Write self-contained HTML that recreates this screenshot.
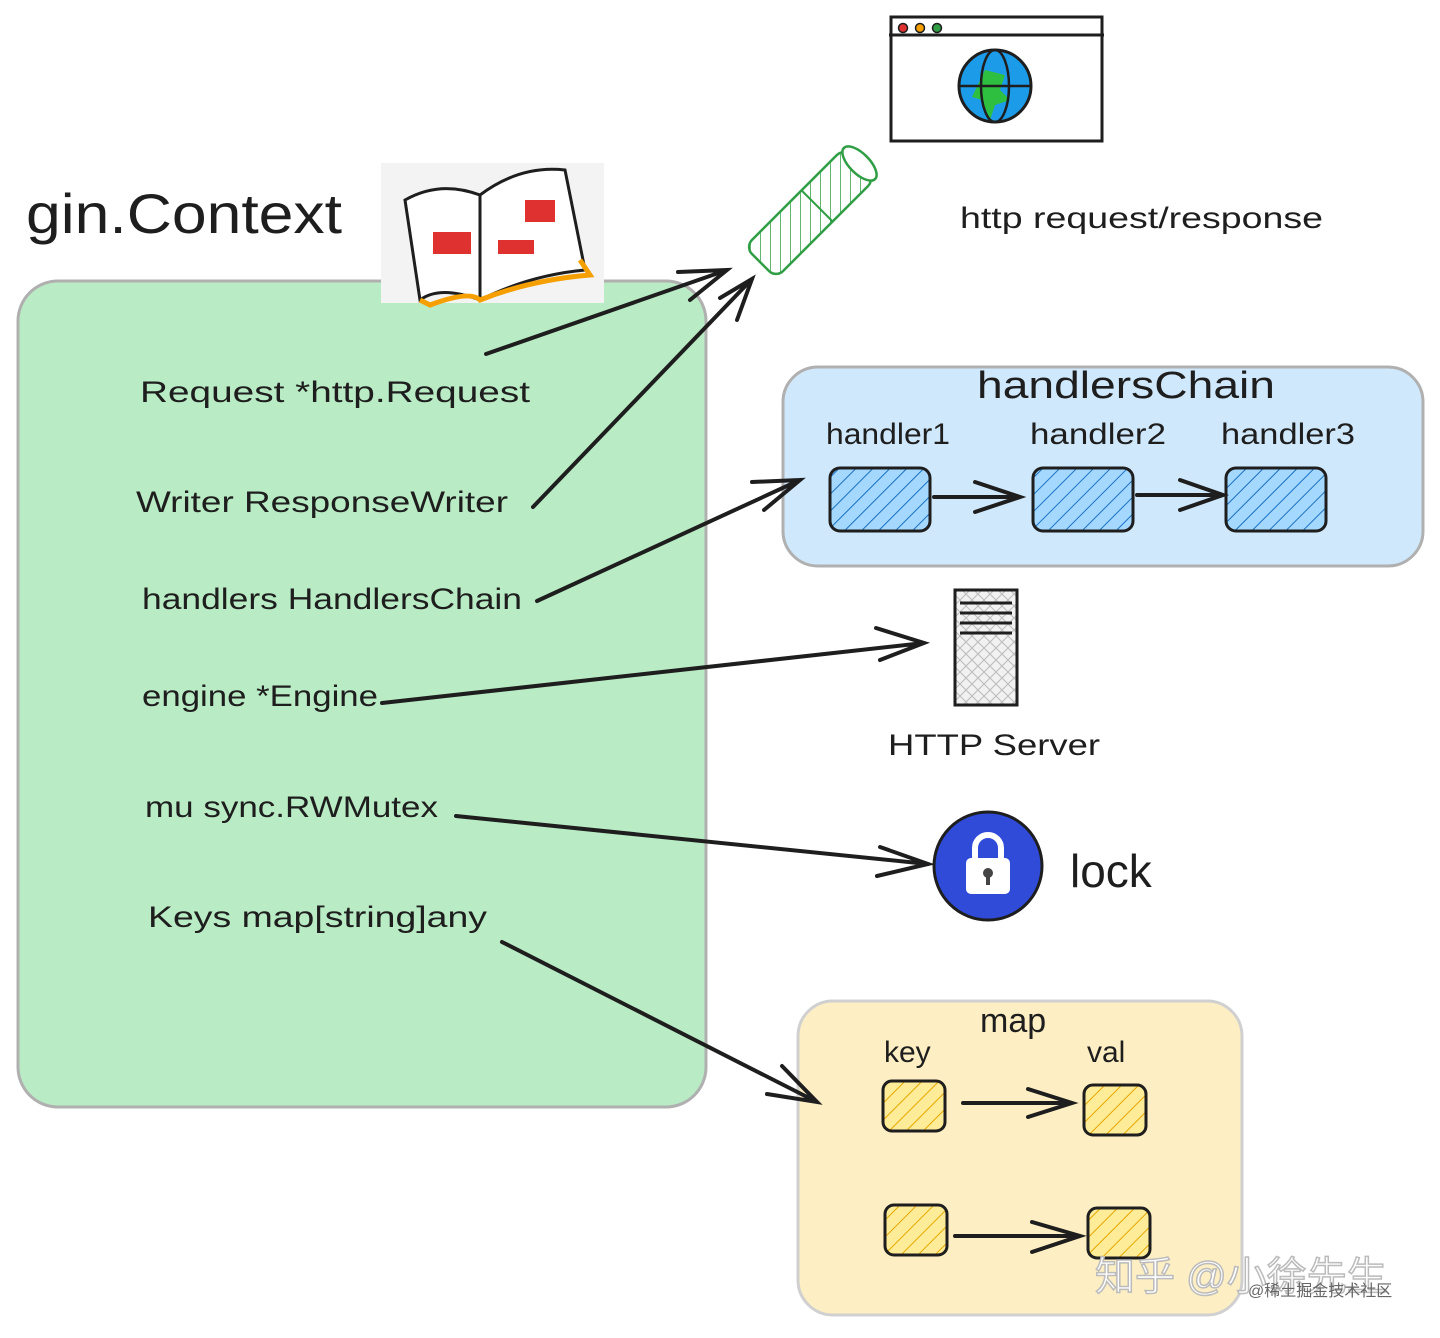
<!DOCTYPE html>
<html><head><meta charset="utf-8"><style>
html,body{margin:0;padding:0;background:#fff}
svg text{font-family:"Liberation Sans","Noto Sans CJK SC",sans-serif;fill:#1e1e1e}
</style></head><body>
<svg width="1440" height="1333" viewBox="0 0 1440 1333" xmlns="http://www.w3.org/2000/svg">
<defs>
<pattern id="hb" width="12" height="12" patternUnits="userSpaceOnUse" patternTransform="rotate(45)"><rect width="12" height="12" fill="#a5d8ff"/><line x1="0" y1="0" x2="0" y2="12" stroke="#1971c2" stroke-width="2"/></pattern>
<pattern id="hy" width="12" height="12" patternUnits="userSpaceOnUse" patternTransform="rotate(45)"><rect width="12" height="12" fill="#ffec99"/><line x1="0" y1="0" x2="0" y2="12" stroke="#e6a700" stroke-width="2"/></pattern>
<pattern id="hg" width="10" height="10" patternUnits="userSpaceOnUse" patternTransform="rotate(45)"><rect width="10" height="10" fill="#fff"/><line x1="0" y1="0" x2="0" y2="10" stroke="#2f9e44" stroke-width="1.5"/></pattern>
<pattern id="hx" width="12" height="12" patternUnits="userSpaceOnUse"><rect width="12" height="12" fill="#f1f1f1"/><path d="M0 0L12 12M12 0L0 12" stroke="#bbb" stroke-width="1"/></pattern>
</defs>
<rect x="891" y="17" width="211" height="124" fill="#fff" stroke="#1e1e1e" stroke-width="3"/>
<line x1="889" y1="35" x2="1104" y2="35" stroke="#1e1e1e" stroke-width="3"/>
<circle cx="903" cy="28" r="4.5" fill="#e03131" stroke="#1e1e1e" stroke-width="1.5"/>
<circle cx="920" cy="28" r="4.5" fill="#f59f00" stroke="#1e1e1e" stroke-width="1.5"/>
<circle cx="937" cy="28" r="4.5" fill="#2f9e44" stroke="#1e1e1e" stroke-width="1.5"/>
<circle cx="995" cy="86" r="36" fill="#1c9be8" stroke="#1e1e1e" stroke-width="3"/>
<path d="M985 70l20 5 -5 15 10 10 -15 5 -5 15 -8 -20 -10 -3z" fill="#2fbf40"/>
<ellipse cx="995" cy="86" rx="14" ry="36" fill="none" stroke="#1e1e1e" stroke-width="2.5"/>
<line x1="959" y1="86" x2="1031" y2="86" stroke="#1e1e1e" stroke-width="2.5"/>
<g transform="translate(810,213) rotate(-45)">
<rect x="-70" y="-22" width="140" height="44" rx="10" fill="url(#hg)" stroke="#2f9e44" stroke-width="2.5"/>
<ellipse cx="70" cy="0" rx="10" ry="22" fill="#fff" stroke="#2f9e44" stroke-width="2.5"/>
<line x1="10" y1="-22" x2="10" y2="22" stroke="#2f9e44" stroke-width="2"/>
</g>
<text x="960" y="228" font-size="30" textLength="363" lengthAdjust="spacingAndGlyphs">http request/response</text>
<rect x="18" y="281" width="688" height="826" rx="40" fill="#b9ebc4" stroke="#b0b0b0" stroke-width="3"/>
<text x="26" y="233" font-size="56" textLength="316" lengthAdjust="spacingAndGlyphs">gin.Context</text>
<rect x="381" y="163" width="223" height="140" fill="#f3f3f3"/>
<path d="M405 200 Q440 180 480 195 L480 300 Q440 285 420 300z" fill="#fff" stroke="#1e1e1e" stroke-width="3"/>
<path d="M480 195 Q520 165 565 170 L585 270 Q530 275 480 300z" fill="#fff" stroke="#1e1e1e" stroke-width="3"/>
<path d="M420 300 L430 305 Q470 290 480 300 Q530 280 590 275 L580 260" fill="none" stroke="#f59f00" stroke-width="5"/>
<rect x="433" y="232" width="38" height="22" fill="#e03131"/>
<rect x="525" y="200" width="30" height="22" fill="#e03131"/>
<rect x="498" y="240" width="36" height="14" fill="#e03131"/>
<g font-size="30">
<text x="140" y="402" textLength="390" lengthAdjust="spacingAndGlyphs">Request   *http.Request</text>
<text x="136" y="512" textLength="372" lengthAdjust="spacingAndGlyphs">Writer   ResponseWriter</text>
<text x="142" y="609" textLength="380" lengthAdjust="spacingAndGlyphs">handlers   HandlersChain</text>
<text x="142" y="706" textLength="236" lengthAdjust="spacingAndGlyphs">engine   *Engine</text>
<text x="145" y="817" textLength="293" lengthAdjust="spacingAndGlyphs">mu   sync.RWMutex</text>
<text x="148" y="927" textLength="339" lengthAdjust="spacingAndGlyphs">Keys   map[string]any</text>
</g>
<rect x="783" y="367" width="640" height="199" rx="35" fill="#d0e8fb" stroke="#b0b0b0" stroke-width="3"/>
<text x="977" y="398" font-size="38" textLength="298" lengthAdjust="spacingAndGlyphs">handlersChain</text>
<g font-size="30"><text x="826" y="444" textLength="124" lengthAdjust="spacingAndGlyphs">handler1</text><text x="1030" y="444" textLength="136" lengthAdjust="spacingAndGlyphs">handler2</text><text x="1221" y="444" textLength="134" lengthAdjust="spacingAndGlyphs">handler3</text></g>
<rect x="830" y="468" width="100" height="63" rx="10" fill="url(#hb)" stroke="#1e1e1e" stroke-width="3"/>
<rect x="1033" y="468" width="100" height="63" rx="10" fill="url(#hb)" stroke="#1e1e1e" stroke-width="3"/>
<rect x="1226" y="468" width="100" height="63" rx="10" fill="url(#hb)" stroke="#1e1e1e" stroke-width="3"/>
<rect x="955" y="590" width="62" height="115" fill="url(#hx)" stroke="#1e1e1e" stroke-width="3"/>
<g stroke="#1e1e1e" stroke-width="3"><line x1="960" y1="603" x2="1012" y2="603"/><line x1="960" y1="613" x2="1012" y2="613"/><line x1="960" y1="623" x2="1012" y2="623"/><line x1="960" y1="633" x2="1012" y2="633"/></g>
<text x="888" y="755" font-size="30" textLength="212" lengthAdjust="spacingAndGlyphs">HTTP Server</text>
<circle cx="988" cy="866" r="54" fill="#2f4bd8" stroke="#1e1e1e" stroke-width="3"/>
<rect x="966" y="858" width="44" height="36" rx="5" fill="#fff"/>
<path d="M975 858 v-10 a13 13 0 0 1 26 0 v10" fill="none" stroke="#fff" stroke-width="6"/>
<circle cx="988" cy="873" r="5" fill="#444"/><rect x="986" y="873" width="4" height="12" fill="#444"/>
<text x="1070" y="887" font-size="46">lock</text>
<rect x="798" y="1001" width="444" height="314" rx="35" fill="#fdefc3" stroke="#d0d0d0" stroke-width="3"/>
<text x="980" y="1032" font-size="34">map</text>
<text x="884" y="1062" font-size="30">key</text>
<text x="1087" y="1062" font-size="30">val</text>
<rect x="883" y="1081" width="62" height="50" rx="9" fill="url(#hy)" stroke="#1e1e1e" stroke-width="3"/>
<rect x="1084" y="1085" width="62" height="50" rx="9" fill="url(#hy)" stroke="#1e1e1e" stroke-width="3"/>
<rect x="885" y="1205" width="62" height="50" rx="9" fill="url(#hy)" stroke="#1e1e1e" stroke-width="3"/>
<rect x="1088" y="1208" width="62" height="50" rx="9" fill="url(#hy)" stroke="#1e1e1e" stroke-width="3"/>
<g fill="none" stroke="#1e1e1e" stroke-width="4" stroke-linecap="round">
<path d="M486 354 L727 270 M678 272 L727 270 L690 300"/>
<path d="M533 507 L752 279 M720 298 L752 279 L737 320"/>
<path d="M537 601 L800 480 M752 482 L800 480 L764 510"/>
<path d="M382 703 L924 643 M876 628 L924 643 L880 660"/>
<path d="M456 816 L928 864 M880 847 L928 864 L877 876"/>
<path d="M502 942 L817 1102 M782 1066 L817 1102 L767 1094"/>
<path d="M934 497 L1020 497 M975 482 L1020 497 L975 512"/>
<path d="M1137 495 L1223 495 M1180 480 L1223 495 L1180 510"/>
<path d="M963 1103 L1072 1103 M1028 1089 L1072 1103 L1028 1117"/>
<path d="M955 1236 L1080 1236 M1032 1222 L1080 1236 L1032 1252"/>
</g>
<text x="1095" y="1290" font-size="40" style="fill:#fff;stroke:#bbb;stroke-width:1.5">知乎 @小徐先生</text>
<text x="1248" y="1296" font-size="16" style="fill:#666">@稀土掘金技术社区</text>
</svg>
</body></html>
